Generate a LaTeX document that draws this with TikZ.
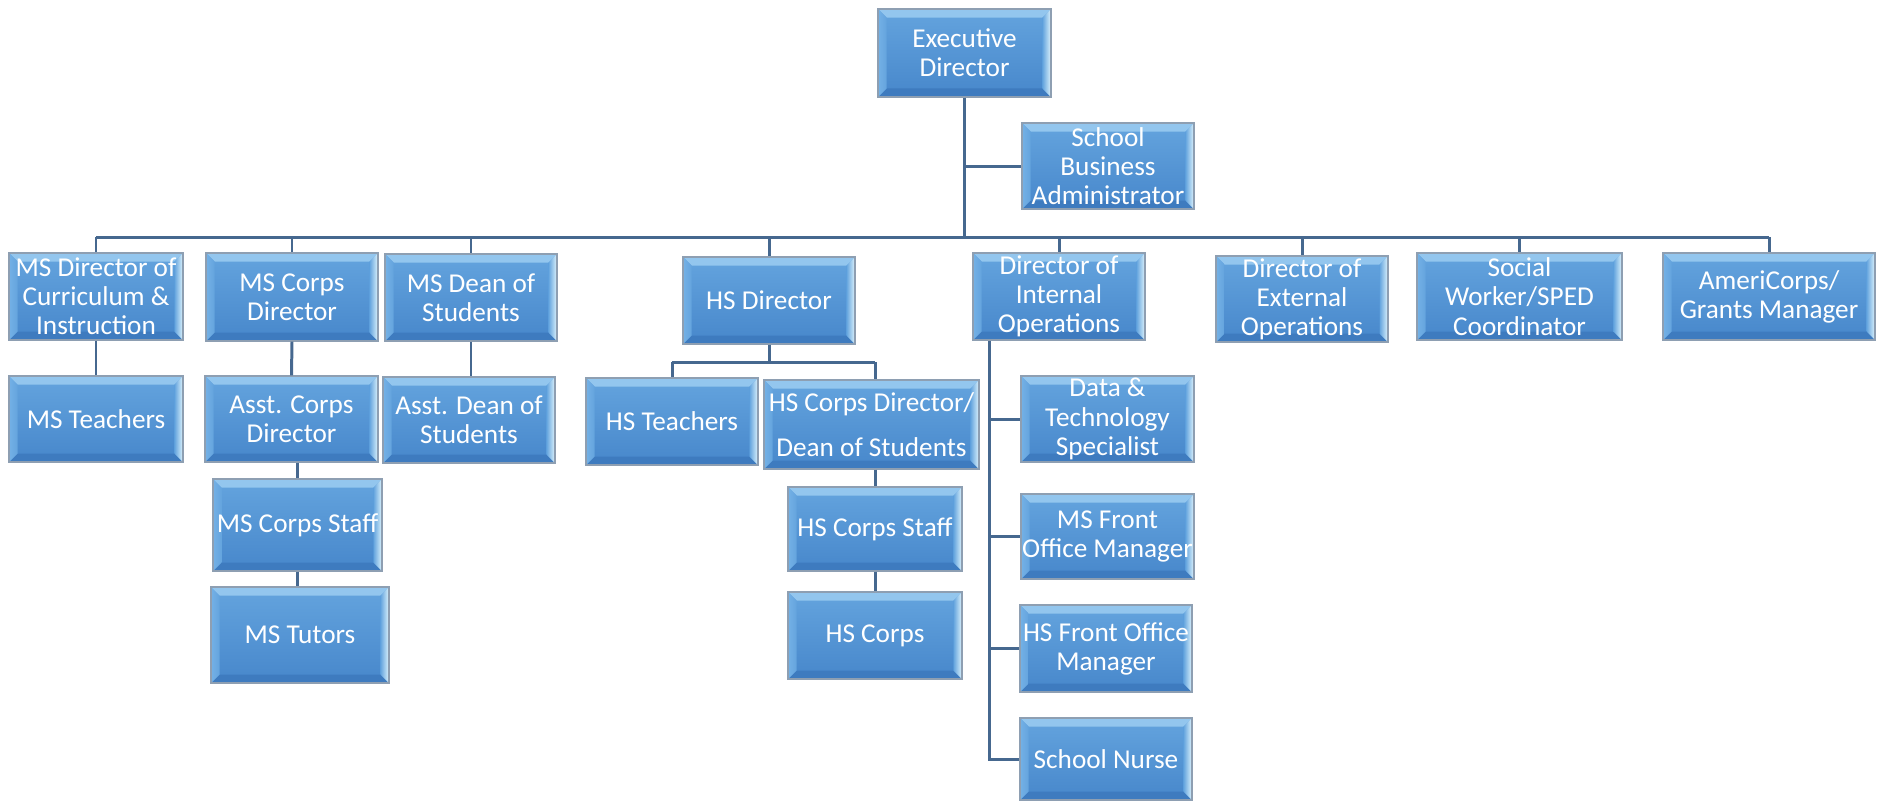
\documentclass[tikz,border=0pt]{standalone}
\usepackage{fontspec}
\setmainfont{Carlito}
\definecolor{linec}{HTML}{46688F}
\definecolor{boxtop}{HTML}{64A4DE}
\definecolor{boxbot}{HTML}{4787CB}
\definecolor{boxedge}{HTML}{8E9FB2}
\definecolor{bevt}{HTML}{93C6EE}
\definecolor{bevl}{HTML}{74B1E6}
\definecolor{bevr}{HTML}{DDF3FC}
\definecolor{bevb}{HTML}{3E7BBF}
\tikzset{
  bevel/.style={path picture={
      \fill[bevt] (path picture bounding box.north west) -- (path picture bounding box.north east)
        -- ([xshift=-0.17cm,yshift=-0.17cm]path picture bounding box.north east)
        -- ([xshift=0.17cm,yshift=-0.17cm]path picture bounding box.north west) -- cycle;
      \fill[bevb] (path picture bounding box.south west) -- (path picture bounding box.south east)
        -- ([xshift=-0.17cm,yshift=0.17cm]path picture bounding box.south east)
        -- ([xshift=0.17cm,yshift=0.17cm]path picture bounding box.south west) -- cycle;
      \shade[left color=bevl, right color=boxtop] (path picture bounding box.north west) -- (path picture bounding box.south west)
        -- ([xshift=0.17cm,yshift=0.17cm]path picture bounding box.south west)
        -- ([xshift=0.17cm,yshift=-0.17cm]path picture bounding box.north west) -- cycle;
      \shade[left color=boxtop, right color=bevr] (path picture bounding box.north east) -- (path picture bounding box.south east)
        -- ([xshift=-0.17cm,yshift=0.17cm]path picture bounding box.south east)
        -- ([xshift=-0.17cm,yshift=-0.17cm]path picture bounding box.north east) -- cycle;
    }},
  orgbase/.style={rectangle, draw=boxedge, line width=0.7pt,
    top color=boxtop, bottom color=boxbot, text=white, align=center,
    inner sep=0pt, font=\fontsize{15.5pt}{16.6pt}\selectfont, bevel},
  conn/.style={draw=linec, line width=1.7pt}
}
\begin{document}
\begin{tikzpicture}[x=0.02cm,y=-0.02cm]
\useasboundingbox (0,0) rectangle (1883,802);
% top
\node[orgbase,minimum width=3.46cm,minimum height=1.76cm] (exec) at (964.5,53) {Executive\\Director};
\node[orgbase,minimum width=3.44cm,minimum height=1.72cm] (sba) at (1108,166) {School\\Business\\Administrator};
% row 2
\node[orgbase,minimum width=3.48cm,minimum height=1.74cm] (mscur) at (96,296.5) {MS Director of\\Curriculum \&\\Instruction};
\node[orgbase,minimum width=3.44cm,minimum height=1.76cm] (mscorps) at (292,297) {MS Corps\\Director};
\node[orgbase,minimum width=3.44cm,minimum height=1.74cm] (msdean) at (471,297.5) {MS Dean of\\Students};
\node[orgbase,minimum width=3.44cm,minimum height=1.74cm] (hsdir) at (769,300.5) {HS Director};
\node[orgbase,minimum width=3.44cm,minimum height=1.74cm] (intops) at (1059,296.5) {Director of\\Internal\\Operations};
\node[orgbase,minimum width=3.44cm,minimum height=1.72cm] (extops) at (1302,299) {Director of\\External\\Operations};
\node[orgbase,minimum width=4.10cm,minimum height=1.74cm] (social) at (1519.5,296.5) {Social\\Worker/SPED\\Coordinator};
\node[orgbase,minimum width=4.24cm,minimum height=1.74cm] (ameri) at (1769,296.5) {AmeriCorps/\\Grants Manager};
% row 3
\node[orgbase,minimum width=3.48cm,minimum height=1.72cm] (msteach) at (96,419) {MS Teachers};
\node[orgbase,minimum width=3.46cm,minimum height=1.72cm] (asstcorps) at (291.5,419) {Asst. Corps\\Director};
\node[orgbase,minimum width=3.44cm,minimum height=1.72cm] (asstdean) at (469,420) {Asst. Dean of\\Students};
\node[orgbase,minimum width=3.44cm,minimum height=1.74cm] (hsteach) at (672,421.5) {HS Teachers};
\node[orgbase,minimum width=4.30cm,minimum height=1.78cm] (hscorpsdir) at (871.5,424.5) {HS Corps Director/\\[9pt]Dean of Students};
\node[orgbase,minimum width=3.46cm,minimum height=1.72cm] (datatech) at (1107.5,419) {Data \&\\Technology\\Specialist};
% lower rows
\node[orgbase,minimum width=3.38cm,minimum height=1.84cm] (mscorpsstaff) at (297.5,525) {MS Corps Staff};
\node[orgbase,minimum width=3.56cm,minimum height=1.92cm] (mstutors) at (300,635) {MS Tutors};
\node[orgbase,minimum width=3.48cm,minimum height=1.68cm] (hscorpsstaff) at (875,529) {HS Corps Staff};
\node[orgbase,minimum width=3.48cm,minimum height=1.74cm] (hscorps) at (875,635.5) {HS Corps};
\node[orgbase,minimum width=3.46cm,minimum height=1.70cm] (msfront) at (1107.5,536.5) {MS Front\\Office Manager};
\node[orgbase,minimum width=3.44cm,minimum height=1.74cm] (hsfront) at (1106,648.5) {HS Front Office\\Manager};
\node[orgbase,minimum width=3.44cm,minimum height=1.64cm] (nurse) at (1106,759) {School Nurse};
% connectors
\coordinate (busy) at (0,237);
\draw[conn] (exec.south) -- (exec.south |- busy);
\draw[conn] (exec.south |- sba.west) -- (sba.west);
\draw[conn] (mscur.north |- busy) -- (ameri.north |- busy);
\foreach \n in {mscur,mscorps,msdean,hsdir,intops,extops,social,ameri}
  \draw[conn] (\n.north |- busy) -- (\n.north);
\draw[conn] (mscur.south) -- (msteach.north);
\draw[conn] (mscorps.south) -- (asstcorps.north);
\draw[conn] (mscorpsstaff.north |- asstcorps.south) -- (mscorpsstaff.north);
\draw[conn] (mscorpsstaff.south) -- (mscorpsstaff.south |- mstutors.north);
\draw[conn] (msdean.south) -- (msdean.south |- asstdean.north);
\coordinate (hsy) at (0,362);
\draw[conn] (hsdir.south) -- (hsdir.south |- hsy);
\draw[conn] (hsteach.north |- hsy) -- (hscorpsstaff.north |- hsy);
\draw[conn] (hsteach.north |- hsy) -- (hsteach.north);
\draw[conn] (hscorpsstaff.north |- hsy) -- (hscorpsstaff.north |- hscorpsdir.north);
\draw[conn] (hscorpsstaff.north |- hscorpsdir.south) -- (hscorpsstaff.north);
\draw[conn] (hscorpsstaff.south) -- (hscorps.north);
\coordinate (spine) at (989,0);
\draw[conn] (spine |- intops.south) -- (spine |- nurse.west) -- (nurse.west);
\foreach \n in {datatech,msfront,hsfront}
  \draw[conn] (spine |- \n.west) -- (\n.west);
\end{tikzpicture}
\end{document}
